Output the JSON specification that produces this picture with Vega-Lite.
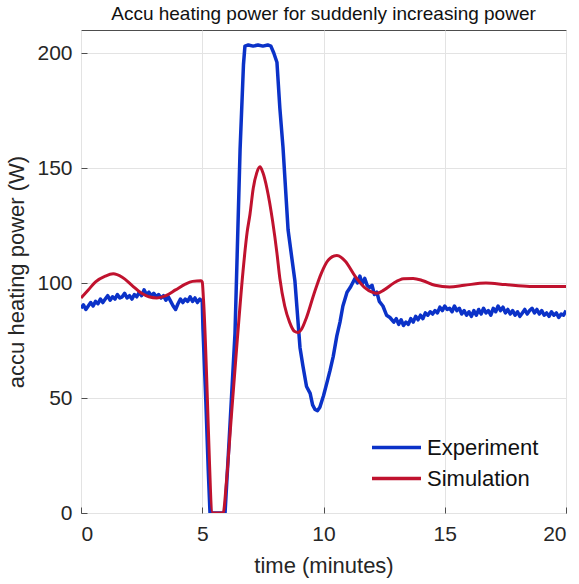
{
  "$schema": "https://vega.github.io/schema/vega-lite/v6.json",
  "width": 485,
  "height": 483,
  "autosize": {"type": "none"},
  "padding": {"left": 81, "top": 30, "right": 13, "bottom": 71},
  "background": "white",
  "config": {
    "font": "Liberation Sans",
    "view": {"stroke": "#4d4d4d", "strokeWidth": 1},
    "axis": {
      "gridColor": "#e3e3e3",
      "gridWidth": 1,
      "domain": false,
      "tickColor": "#4d4d4d",
      "labelColor": "#262626",
      "titleColor": "#262626",
      "labelFont": "Liberation Sans",
      "titleFont": "Liberation Sans",
      "titleFontWeight": "normal",
      "labelFontSize": 21,
      "titleFontSize": 22
    },
    "title": {"font": "Liberation Sans", "fontSize": 19, "fontWeight": "normal", "color": "#111111"}
  },
  "title": {"text": "Accu heating power for suddenly increasing power", "anchor": "middle", "offset": 6},
  "datasets": {
    "exp": [
      {"t":0.0,"w":89},{"t":0.1,"w":90.5},{"t":0.2,"w":88.5},{"t":0.3,"w":90},{"t":0.4,"w":91.5},{"t":0.5,"w":90},{"t":0.6,"w":92},{"t":0.7,"w":91},{"t":0.8,"w":93},{"t":0.9,"w":91.5},
      {"t":1.0,"w":93},{"t":1.1,"w":94.5},{"t":1.2,"w":92.5},{"t":1.3,"w":94},{"t":1.4,"w":93},{"t":1.5,"w":95},{"t":1.6,"w":93.5},{"t":1.7,"w":94},{"t":1.8,"w":95.5},{"t":1.9,"w":93.5},
      {"t":2.0,"w":94.5},{"t":2.1,"w":93},{"t":2.2,"w":95},{"t":2.3,"w":94},{"t":2.4,"w":96},{"t":2.5,"w":94.5},{"t":2.6,"w":97},{"t":2.7,"w":95},{"t":2.8,"w":96},{"t":2.9,"w":94.5},
      {"t":3.0,"w":95.5},{"t":3.1,"w":94},{"t":3.2,"w":95},{"t":3.3,"w":93.5},{"t":3.4,"w":94.5},{"t":3.5,"w":92.5},{"t":3.6,"w":94},{"t":3.7,"w":92},{"t":3.8,"w":90},{"t":3.9,"w":88.5},
      {"t":4.0,"w":91},{"t":4.1,"w":93},{"t":4.2,"w":91.5},{"t":4.3,"w":93},{"t":4.4,"w":92},{"t":4.5,"w":94},{"t":4.6,"w":92},{"t":4.7,"w":93.5},{"t":4.8,"w":91.5},{"t":4.9,"w":93},
      {"t":5.0,"w":92},{"t":5.03,"w":80},{"t":5.15,"w":48},{"t":5.25,"w":18},{"t":5.32,"w":0},{"t":5.94,"w":0},{"t":6.1,"w":30},{"t":6.35,"w":78},{"t":6.56,"w":158},{"t":6.7,"w":195},
      {"t":6.76,"w":203},{"t":6.9,"w":203.5},{"t":7.1,"w":203},{"t":7.3,"w":203.5},{"t":7.5,"w":203},{"t":7.7,"w":203.5},{"t":7.83,"w":203},{"t":7.95,"w":200},{"t":8.08,"w":196},{"t":8.2,"w":176},
      {"t":8.33,"w":159},{"t":8.54,"w":123},{"t":8.68,"w":112},{"t":8.82,"w":101},{"t":9.03,"w":72},{"t":9.15,"w":64},{"t":9.3,"w":55},{"t":9.45,"w":52},{"t":9.55,"w":47},{"t":9.65,"w":45},
      {"t":9.75,"w":44.5},{"t":9.85,"w":46},{"t":10.0,"w":51},{"t":10.15,"w":57},{"t":10.27,"w":62},{"t":10.4,"w":68},{"t":10.55,"w":77},{"t":10.68,"w":83},{"t":10.8,"w":90},{"t":10.97,"w":96},
      {"t":11.1,"w":98},{"t":11.2,"w":100},{"t":11.3,"w":102},{"t":11.4,"w":100},{"t":11.5,"w":103},{"t":11.6,"w":99.5},{"t":11.7,"w":102},{"t":11.8,"w":99},{"t":11.9,"w":98},{"t":12.0,"w":99},
      {"t":12.1,"w":95},{"t":12.2,"w":96},{"t":12.3,"w":92},{"t":12.45,"w":90},{"t":12.6,"w":86},{"t":12.74,"w":85},{"t":12.9,"w":83},{"t":13.0,"w":84.5},{"t":13.1,"w":82},{"t":13.2,"w":84},
      {"t":13.3,"w":81.5},{"t":13.4,"w":83},{"t":13.5,"w":82},{"t":13.6,"w":84.5},{"t":13.7,"w":83},{"t":13.8,"w":85.5},{"t":13.9,"w":84},{"t":14.0,"w":86},{"t":14.1,"w":84.5},{"t":14.2,"w":87},
      {"t":14.3,"w":86},{"t":14.4,"w":87.5},{"t":14.5,"w":86.5},{"t":14.6,"w":88},{"t":14.7,"w":87},{"t":14.8,"w":89.5},{"t":14.9,"w":88},{"t":15.0,"w":90},{"t":15.1,"w":88.5},{"t":15.2,"w":89},
      {"t":15.3,"w":87.5},{"t":15.4,"w":90},{"t":15.5,"w":88},{"t":15.6,"w":89},{"t":15.7,"w":86.5},{"t":15.8,"w":88},{"t":15.9,"w":86},{"t":16.0,"w":87.5},{"t":16.1,"w":85.5},{"t":16.2,"w":88},
      {"t":16.3,"w":86},{"t":16.4,"w":88.5},{"t":16.5,"w":86.5},{"t":16.6,"w":89},{"t":16.7,"w":87},{"t":16.8,"w":88},{"t":16.9,"w":86},{"t":17.0,"w":89},{"t":17.1,"w":87.5},{"t":17.2,"w":90},
      {"t":17.3,"w":88},{"t":17.4,"w":89.5},{"t":17.5,"w":87},{"t":17.6,"w":88.5},{"t":17.7,"w":86.5},{"t":17.8,"w":88},{"t":17.9,"w":86},{"t":18.0,"w":87.5},{"t":18.1,"w":85.5},{"t":18.2,"w":87},
      {"t":18.3,"w":88.5},{"t":18.4,"w":86.5},{"t":18.5,"w":88},{"t":18.6,"w":89},{"t":18.7,"w":87},{"t":18.8,"w":88.5},{"t":18.9,"w":86.5},{"t":19.0,"w":88},{"t":19.1,"w":86},{"t":19.2,"w":87},
      {"t":19.3,"w":85.5},{"t":19.4,"w":87.5},{"t":19.5,"w":86},{"t":19.6,"w":87},{"t":19.7,"w":85},{"t":19.8,"w":86.5},{"t":19.9,"w":86},{"t":20.0,"w":88}
    ],
    "sim": [
      {"t":0,"w":93.5},{"t":0.3,"w":97},{"t":0.6,"w":100.5},{"t":1.0,"w":103},{"t":1.33,"w":104},{"t":1.7,"w":102.5},{"t":2.1,"w":99},{"t":2.5,"w":95.5},{"t":2.8,"w":94},{"t":3.13,"w":93.5},
      {"t":3.5,"w":94.5},{"t":3.9,"w":97},{"t":4.3,"w":99.5},{"t":4.6,"w":100.7},{"t":4.95,"w":101},{"t":5.0,"w":100.5},{"t":5.05,"w":93},{"t":5.44,"w":0},{"t":5.86,"w":0},{"t":6.0,"w":14},
      {"t":6.2,"w":42},{"t":6.45,"w":76},{"t":6.68,"w":105},{"t":6.85,"w":122},{"t":6.97,"w":130},{"t":7.1,"w":141},{"t":7.25,"w":148},{"t":7.38,"w":150.5},{"t":7.5,"w":148},{"t":7.67,"w":141},
      {"t":7.9,"w":127},{"t":8.08,"w":113},{"t":8.2,"w":102},{"t":8.4,"w":90},{"t":8.6,"w":83},{"t":8.8,"w":79},{"t":8.95,"w":78.5},{"t":9.1,"w":80},{"t":9.3,"w":85},{"t":9.6,"w":95},
      {"t":9.9,"w":104},{"t":10.2,"w":110},{"t":10.55,"w":112},{"t":10.9,"w":109.5},{"t":11.3,"w":103},{"t":11.7,"w":98},{"t":12.0,"w":96},{"t":12.2,"w":95.5},{"t":12.5,"w":97},{"t":12.9,"w":100},
      {"t":13.3,"w":101.8},{"t":13.7,"w":102},{"t":14.1,"w":101},{"t":14.6,"w":99},{"t":15.2,"w":98.3},{"t":15.8,"w":99},{"t":16.7,"w":100},{"t":17.5,"w":99.3},{"t":18.5,"w":98.5},{"t":20,"w":98.5}
    ]
  },
  "layer": [
    {
      "data": {"name": "exp"},
      "transform": [{"calculate": "'Experiment'", "as": "series"}],
      "mark": {"type": "line", "strokeWidth": 3.5, "clip": true, "strokeJoin": "round"},
      "encoding": {
        "x": {"field": "t", "type": "quantitative", "scale": {"domain": [0, 20], "nice": false},
              "axis": {"values": [0, 5, 10, 15, 20], "title": "time (minutes)", "tickSize": -6, "labelPadding": 16, "titlePadding": 11}},
        "y": {"field": "w", "type": "quantitative", "scale": {"domain": [0, 210], "nice": false, "zero": false},
              "axis": {"values": [0, 50, 100, 150, 200], "title": "accu heating power (W)", "tickSize": -6, "labelPadding": 15, "titlePadding": 8}},
        "color": {"field": "series", "type": "nominal",
                  "scale": {"domain": ["Experiment", "Simulation"], "range": ["#0b32c8", "#c0122e"]},
                  "legend": {"title": null, "orient": "none", "legendX": 289, "legendY": 402, "symbolType": "stroke", "symbolSize": 2400, "symbolStrokeWidth": 3.5, "labelFontSize": 22, "labelColor": "#111111", "labelOffset": 4, "clipHeight": 31, "rowPadding": 0, "padding": 0}}
      }
    },
    {
      "data": {"name": "sim"},
      "transform": [{"calculate": "'Simulation'", "as": "series"}],
      "mark": {"type": "line", "strokeWidth": 3, "clip": true, "strokeJoin": "round", "interpolate": "monotone"},
      "encoding": {
        "x": {"field": "t", "type": "quantitative"},
        "y": {"field": "w", "type": "quantitative"},
        "color": {"field": "series", "type": "nominal"}
      }
    }
  ]
}
